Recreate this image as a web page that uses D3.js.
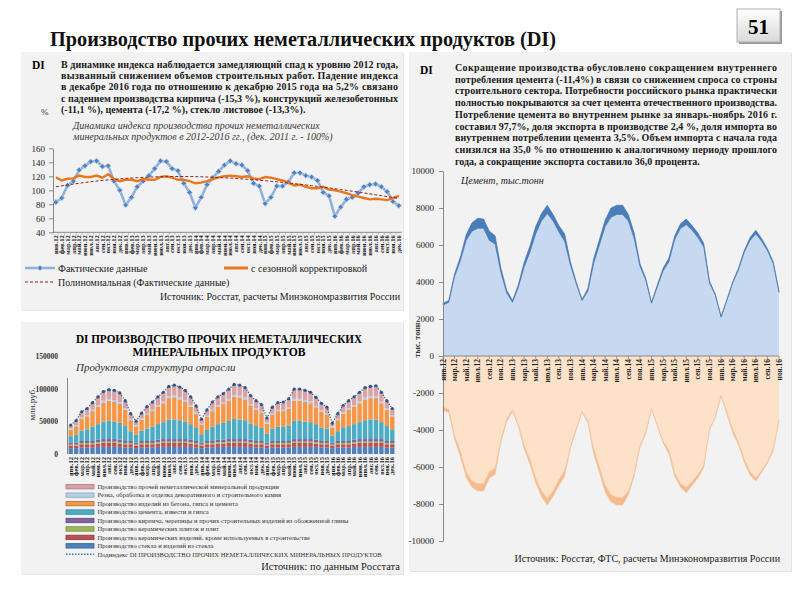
<!DOCTYPE html>
<html><head><meta charset="utf-8">
<script src="https://cdn.jsdelivr.net/npm/d3@7"></script>
<style>
body{margin:0;background:#fff}
svg{display:block}
</style>
</head><body>
<svg id="c" width="800" height="597"></svg>
<script>
// ---------- DATA ----------
const monthNames = ["янв","фев","мар","апр","май","июн","июл","авг","сен","окт","ноя","дек"];
const yearNames = ["12","13","14","15","16"];
const months = yearNames.flatMap(y => monthNames.map(m => m + "." + y));

// Index of production, Dec 2011 = 100
const actualIndex = [83,89,107,113,129,135,141,142,134,135,113,100, 79,90,105,113,121,131,142,141,131,128,110,97, 75,90,108,118,127,136,142,138,136,128,110,106, 81,90,106,106,112,125,125,121,119,114,97,92, 63,76,87,90,96,105,108,109,105,98,84,78];
const seasonalIndex = [118.5,114,116.5,117,121,119,119,121,118,123,116,113, 115,115,113,116,115,115,119,120,118,115,115,113, 110,111,113,116,118.5,120,121,120,119,120,117,116, 119,118,116,114,111,107,108,105,103,103,105,101, 100,98,96,93,91,89,87,88,87,86,89,92];
const trendIndex = [105,106.4,107.7,108.9,110.1,111.2,112.2,113.2,114.1,114.9,115.7,116.4, 117.0,117.6,118.1,118.5,118.9,119.2,119.4,119.6,119.7,119.7,119.7,119.6, 119.5,119.3,119.0,118.7,118.3,117.9,117.4,116.9,116.3,115.7,115.1,114.4, 113.7,112.9,112.1,111.3,110.4,109.5,108.6,107.6,106.6,105.6,104.5,103.4, 102.3,101.1,99.9,98.7,97.5,96.2,94.9,93.6,92.3,91.0,89.7,88.4];
const indexTicks = [40,60,80,100,120,140,160];

// Product structure, thousand mln rub
const glass    = [9,9,10,10,10,11,11,11,11,11,10,10, 9,10,10,10,11,11,11,11,11,11,11,10, 9,10,10,11,11,11,11,11,11,11,10,10, 9,10,10,10,10,11,11,11,11,11,10,10, 9,10,10,10,11,11,11,11,11,11,10,10];
const ceramics = [4,4,5,5,5,5,6,6,6,5,5,5, 4,5,5,5,5,6,6,6,6,6,5,5, 4,5,5,5,5,6,6,6,6,5,5,5, 4,5,5,5,5,6,6,6,6,5,5,5, 4,5,5,5,5,6,6,6,6,6,5,5];
const tiles    = [1.5,1.5,2,2,2,2,2,2,2,2,2,2, 1.5,2,2,2,2,2,2,2,2,2,2,2, 1.5,2,2,2,2,2,2,2,2,2,2,2, 1.5,2,2,2,2,2,2,2,2,2,2,2, 1.5,2,2,2,2,2,2,2,2,2,2,2];
const brick    = [3,3,3,3,3,4,4,4,4,4,3,3, 3,3,3,3,4,4,4,4,4,4,4,3, 3,3,3,4,4,4,4,4,4,4,3,3, 3,3,3,3,3,4,4,4,4,4,3,3, 3,3,3,3,4,4,4,4,4,4,3,3];
const cement   = [10,12,16,18,22,24,27,28,27,26,23,15, 12,16,19,22,24,26,30,30,29,27,24,20, 13,17,22,24,26,28,31,30,29,25,23,20, 14,19,22,22,24,28,28,27,26,24,21,19, 11,15,20,23,24,26,29,30,30,26,23,18];
const concrete = [10,13,18,20,24,27,29,31,30,29,25,17, 13,17,21,24,27,29,33,34,32,30,27,22, 14,20,24,27,29,31,34,34,32,28,25,23, 15,21,24,24,26,31,31,30,29,26,24,21, 12,17,22,25,27,29,32,33,33,29,25,20];
const stone    = [2,2,2,2,2,2,3,3,3,3,2,2, 2,2,2,2,2,3,3,3,3,3,2,2, 2,2,2,2,2,3,3,3,3,2,2,2, 2,2,2,2,2,3,3,3,3,2,2,2, 2,2,2,2,2,3,3,3,3,3,2,2];
const otherMin = [5,7,9,10,11,13,14,14,15,14,12,8, 6,8,11,12,13,14,15,16,16,15,13,10, 7,9,12,13,14,15,16,16,15,13,12,11, 7,10,11,12,13,15,15,15,14,13,11,10, 5,8,11,12,13,14,15,15,16,14,12,10];
const structTicks = [0,50,100,150];
const structNames = [
  "Производство прочей неметаллической минеральной продукции",
  "Резка, обработка и отделка декоративного и строительного камня",
  "Производство изделий из бетона, гипса и цемента",
  "Производство цемента, извести и гипса",
  "Производство кирпича, черепицы и прочих строительных изделий из  обожженной глины",
  "Производство керамических плиток и плит",
  "Производство керамических изделий, кроме используемых в строительстве",
  "Производство стекла и изделий из стекла"
];
const totalName = "Подиндекс DI ПРОИЗВОДСТВО ПРОЧИХ НЕМЕТАЛЛИЧЕСКИХ  МИНЕРАЛЬНЫХ ПРОДУКТОВ";

// Cement, thousand tonnes (Jan 2012 – Nov 2016)
const cementDomestic = [2750,2900,4300,5150,6250,6750,6900,6900,6250,6050,4500,3400, 2900,3700,4800,5600,6600,7300,7700,7300,6700,6200,4900,3900, 3000,3500,5000,6000,7000,7500,7650,7650,7300,6350,4850,4100, 2850,3750,4600,5100,6300,6900,7100,6800,6400,5900,3950,3300, 2100,3000,3950,4650,5600,6250,6600,6200,5700,5000,3450];
const cementExport   = [100,100,150,200,300,450,550,500,500,450,250,150, 100,150,250,350,400,400,450,350,350,400,200,100, 50,150,250,300,350,500,500,500,350,300,150,100, 50,100,150,200,200,250,300,250,250,200,100,50, 50,50,50,100,100,150,200,150,100,100,50];
const cementImport   = [200,150,200,300,300,350,400,400,350,350,150,150, 100,100,200,250,250,300,350,300,300,300,100,100, 50,100,300,300,350,400,400,400,200,150,100,100, 50,50,100,200,200,200,300,200,200,150,50,50, 100,150,200,150,150,200,150,100,100,150,50];
const cementTicks = [-10000,-8000,-6000,-4000,-2000,0,2000,4000,6000,8000,10000];

// ---------- DRAWING ----------
const FONT = '"Liberation Serif", "Times New Roman", Times, "DejaVu Serif", serif';
const svg = d3.select("#c").style("font-family", FONT);
svg.append("rect").attr("width",800).attr("height",597).attr("fill","#fff");

// panels
[[21,52,382,258],[21,322,382,252],[409,52,382,519]].forEach(([x,y,w,h]) => {
  svg.append("rect").attr("x",x+1).attr("y",y+1).attr("width",w).attr("height",h).attr("fill","#e4e4e4");
  svg.append("rect").attr("x",x).attr("y",y).attr("width",w).attr("height",h).attr("fill","#f2f2f2");
});

// title
svg.append("text").attr("x",50).attr("y",46).attr("font-size",21).attr("font-weight","bold")
  .attr("textLength",506).attr("lengthAdjust","spacingAndGlyphs").attr("fill","#111")
  .text("Производство прочих неметаллических продуктов (DI)");

// page number box
const defs = svg.append("defs");
const lg = defs.append("linearGradient").attr("id","pg").attr("x1",0).attr("y1",0).attr("x2",0).attr("y2",1);
lg.append("stop").attr("offset","0").attr("stop-color","#ffffff");
lg.append("stop").attr("offset","1").attr("stop-color","#d9d9d9");
svg.append("rect").attr("x",739).attr("y",11).attr("width",43).attr("height",33).attr("fill","#9a9a9a");
svg.append("rect").attr("x",737).attr("y",9).attr("width",43).attr("height",33).attr("fill","url(#pg)").attr("stroke","#b0b0b0");
svg.append("text").attr("x",758.5).attr("y",34).attr("text-anchor","middle").attr("font-size",21).attr("font-weight","bold").text("51");

function para(lines, x, y0, dy, width, size) {
  lines.forEach((l,i) => {
    const t = svg.append("text").attr("x",x).attr("y",y0+i*dy).attr("font-size",size)
      .attr("font-weight","bold").attr("fill","#1a1a1a").text(l);
    if (i < lines.length-1) t.attr("textLength",width).attr("lengthAdjust","spacing");
  });
}

// ===== Top-left panel =====
svg.append("text").attr("x",32).attr("y",69).attr("font-size",11.5).attr("font-weight","bold").text("DI");
para([
  "В динамике индекса наблюдается замедляющий спад к уровню 2012 года,",
  "вызванный снижением объемов строительных работ.  Падение индекса",
  "в декабре 2016 года по отношению к декабрю 2015 года на 5,2% связано",
  "с падением производства кирпича (-15,3 %), конструкций железобетонных",
  "(-11,1 %), цемента (-17,2 %), стекло листовое (-13,3%)."
], 61, 68, 11.2, 337, 10);
svg.append("text").attr("x",41).attr("y",115).attr("font-size",9).attr("fill","#333").text("%");
svg.append("text").attr("x",73).attr("y",129).attr("font-size",10).attr("font-style","italic").attr("fill","#3a3a3a")
  .text("Динамика индекса производства прочих неметаллических");
svg.append("text").attr("x",73).attr("y",140).attr("font-size",10).attr("font-style","italic").attr("fill","#3a3a3a")
  .text("минеральных продуктов в 2012-2016 гг., (дек. 2011 г. - 100%)");

const x1 = d3.scaleBand().domain(months).range([53,401.7]);
const y1 = d3.scaleLinear().domain([40,160]).range([232.3,148.3]);
const bw1 = x1.bandwidth();
const cx1 = (i) => x1(months[i]) + bw1/2;

const ay1 = svg.append("g").attr("transform","translate(53,0)")
  .call(d3.axisLeft(y1).tickValues(indexTicks).tickSize(4).tickSizeOuter(0));
ay1.select(".domain").attr("stroke","#888");
ay1.selectAll(".tick line").attr("stroke","#888");
ay1.selectAll("text").attr("font-size",9).attr("fill","#222").attr("dx",-1);

svg.append("line").attr("x1",53).attr("x2",401.7).attr("y1",y1(40)).attr("y2",y1(40)).attr("stroke","#888");
months.forEach((m,i) => {
  svg.append("line").attr("x1",x1(m)).attr("x2",x1(m)).attr("y1",y1(40)).attr("y2",y1(40)+2.5).attr("stroke","#999").attr("stroke-width",0.6);
  svg.append("text").attr("transform",`translate(${cx1(i)+2.2},${y1(40)+3}) rotate(-90)`)
    .attr("text-anchor","end").attr("font-size",6.5).attr("font-weight","bold").attr("fill","#222").text(m);
});

const line1 = (arr) => d3.line().x((d,i)=>cx1(i)).y(d=>y1(d))(arr);
svg.append("path").attr("d",line1(actualIndex)).attr("fill","none").attr("stroke","#8fb1dc").attr("stroke-width",2.6);
const diamond = d3.symbol().type(d3.symbolSquare).size(16);
actualIndex.forEach((v,i) => {
  svg.append("path").attr("d",diamond()).attr("transform",`translate(${cx1(i)},${y1(v)}) rotate(45)`)
    .attr("fill","#4f81bd").attr("stroke","#c6d6ec").attr("stroke-width",0.8);
});
svg.append("path").attr("d",line1(seasonalIndex)).attr("fill","none").attr("stroke","#e8771e").attr("stroke-width",2.4);
svg.append("path").attr("d",line1(trendIndex)).attr("fill","none").attr("stroke","#8b2323").attr("stroke-width",1).attr("stroke-dasharray","3,2");

// legend
svg.append("line").attr("x1",25).attr("x2",55).attr("y1",268).attr("y2",268).attr("stroke","#8fb1dc").attr("stroke-width",2.6);
svg.append("path").attr("d",diamond()).attr("transform","translate(40,268) rotate(45)").attr("fill","#4f81bd").attr("stroke","#c6d6ec").attr("stroke-width",0.8);
svg.append("text").attr("x",58).attr("y",271.5).attr("font-size",10).attr("fill","#222").text("Фактические данные");
svg.append("line").attr("x1",224).attr("x2",248).attr("y1",268).attr("y2",268).attr("stroke","#e8771e").attr("stroke-width",3);
svg.append("text").attr("x",251).attr("y",271.5).attr("font-size",10).attr("fill","#222").text("с сезонной корректировкой");
svg.append("line").attr("x1",25).attr("x2",55).attr("y1",282).attr("y2",282).attr("stroke","#8b2323").attr("stroke-width",1).attr("stroke-dasharray","3,2");
svg.append("text").attr("x",58).attr("y",285.5).attr("font-size",10).attr("fill","#222").text("Полиномиальная (Фактические данные)");
svg.append("text").attr("x",400).attr("y",300).attr("text-anchor","end").attr("font-size",10).attr("fill","#222")
  .text("Источник: Росстат, расчеты Минэкономразвития России");

// ===== Bottom-left panel =====
svg.append("text").attr("x",219).attr("y",343).attr("text-anchor","middle").attr("font-size",12.5).attr("font-weight","bold")
  .attr("textLength",286).attr("lengthAdjust","spacingAndGlyphs").text("DI ПРОИЗВОДСТВО ПРОЧИХ НЕМЕТАЛЛИЧЕСКИХ");
svg.append("text").attr("x",219).attr("y",356).attr("text-anchor","middle").attr("font-size",12.5).attr("font-weight","bold")
  .attr("textLength",173).attr("lengthAdjust","spacingAndGlyphs").text("МИНЕРАЛЬНЫХ ПРОДУКТОВ");
svg.append("text").attr("x",76).attr("y",371).attr("font-size",11).attr("font-style","italic").attr("fill","#333")
  .text("Продуктовая структура отрасли");

const x2 = d3.scaleBand().domain(months).range([68,395]).paddingInner(0.2).paddingOuter(0.1);
const y2 = d3.scaleLinear().domain([0,150]).range([454,356.5]);
const layers = [glass, ceramics, tiles, brick, cement, concrete, stone, otherMin];
const fills   = ["#4f81bd","#c0504d","#9bbb59","#8064a2","#4bacc6","#f79646","#b9cde5","#d9a3a5"];
const strokes = ["#385d8a","#8c3836","#71893f","#5c4776","#357d91","#b66d31","#8ea7c4","#a87b7d"];
const tableRows = months.map((m,i) => ({m, v: layers.map(a => a[i])}));
const stacked = d3.stack().keys(d3.range(layers.length)).value((d,k) => d.v[k])(tableRows);
stacked.forEach((s,k) => {
  svg.append("g").selectAll("rect").data(s).join("rect")
    .attr("x", d => x2(d.data.m)).attr("width", x2.bandwidth())
    .attr("y", d => y2(d[1])).attr("height", d => y2(d[0]) - y2(d[1]))
    .attr("fill", fills[k]);
});
const totals = tableRows.map(r => d3.sum(r.v));
const cx2 = (i) => x2(months[i]) + x2.bandwidth()/2;
svg.append("path").attr("d", d3.line().x((d,i)=>cx2(i)).y(d=>y2(d))(totals))
  .attr("fill","none").attr("stroke","#2b5a8c").attr("stroke-width",1.2).attr("stroke-dasharray","1.2,1.5");
totals.forEach((t,i) => svg.append("circle").attr("cx",cx2(i)).attr("cy",y2(t)).attr("r",1.6).attr("fill","#2a5788"));

svg.append("line").attr("x1",67.5).attr("x2",67.5).attr("y1",y2(117)).attr("y2",454).attr("stroke","#888");
const ay2 = svg.append("g").attr("transform","translate(61,0)")
  .call(d3.axisLeft(y2).tickValues(structTicks).tickSize(0).tickFormat(d => String(d*1000)));
ay2.select(".domain").remove();
ay2.selectAll("text").attr("font-size",7.5).attr("font-weight","bold").attr("fill","#333");
svg.append("text").attr("transform","translate(35,404) rotate(-90)").attr("text-anchor","middle").attr("font-size",9).attr("fill","#333").text("млн.руб.");
months.forEach((m,i) => {
  svg.append("text").attr("transform",`translate(${cx2(i)+2.2},${457}) rotate(-90)`)
    .attr("text-anchor","end").attr("font-size",6.5).attr("font-weight","bold").attr("fill","#222").text(m);
});
// legend
const legendOrder = [7,6,5,4,3,2,1,0];
legendOrder.forEach((k,j) => {
  const yy = 486.7 + j*8.45;
  svg.append("rect").attr("x",66).attr("y",yy-2.2).attr("width",28).attr("height",4.4).attr("fill",fills[k]).attr("stroke",strokes[k]).attr("stroke-width",0.8);
  svg.append("text").attr("x",97.5).attr("y",yy+2.2).attr("font-size",6.6).attr("fill","#333").text(structNames[j]);
});
svg.append("line").attr("x1",66).attr("x2",94).attr("y1",554.3).attr("y2",554.3).attr("stroke","#2b7fb0").attr("stroke-width",1.6).attr("stroke-dasharray","1.5,1.5");
svg.append("text").attr("x",97.5).attr("y",556.5).attr("font-size",6.6).attr("fill","#333").text(totalName);
svg.append("text").attr("x",400).attr("y",570).attr("text-anchor","end").attr("font-size",10.5).attr("fill","#222").text("Источник: по данным Росстата");

// ===== Right panel =====
svg.append("text").attr("x",420).attr("y",74).attr("font-size",11.5).attr("font-weight","bold").text("DI");
para([
  "Сокращение производства обусловлено сокращением внутреннего",
  "потребления цемента (-11,4%) в связи со снижением спроса со строны",
  "строительного сектора. Потребности российского рынка практически",
  "полностью  покрываются за счет цемента отечественного производства.",
  "Потребление цемента во внутреннем рынке за январь-ноябрь 2016 г.",
  "составил 97,7%, доля экспорта в производстве  2,4 %, доля импорта во",
  "внутреннем потреблении цемента 3,5%. Объем импорта с начала года",
  "снизился на 35,0 % по отношению к аналогичному периоду прошлого",
  "года, а сокращение экспорта составило 36,0  процента."
], 455, 71, 11.7, 322, 10);

const m3 = months.slice(0, cementDomestic.length);
const x3 = d3.scalePoint().domain(m3).range([443,779]);
const y3 = d3.scaleLinear().domain([-10000,10000]).range([541,171]);
const idx = d3.range(m3.length);
const area = (lo, hi) => d3.area().x(i => x3(m3[i])).y0(i => y3(lo(i))).y1(i => y3(hi(i)))(idx);
svg.append("path").attr("d", area(()=>0, i=>cementDomestic[i])).attr("fill","#c6d9f0");
svg.append("path").attr("d", area(i=>cementDomestic[i], i=>cementDomestic[i]+cementExport[i])).attr("fill","#4a7ebb").attr("stroke","#3f70aa").attr("stroke-width",0.6);
svg.append("path").attr("d", area(()=>0, i=>-cementDomestic[i])).attr("fill","#fde1c8");
svg.append("path").attr("d", area(i=>-cementDomestic[i], i=>-(cementDomestic[i]+cementImport[i]))).attr("fill","#f6bb8d").attr("stroke","#f2c39c").attr("stroke-width",0.5);

const ay3 = svg.append("g").attr("transform","translate(443,0)")
  .call(d3.axisLeft(y3).tickValues(cementTicks).tickSize(4).tickSizeOuter(0).tickFormat(d => String(d)));
ay3.select(".domain").attr("stroke","#888");
ay3.selectAll(".tick line").attr("stroke","#888");
ay3.selectAll("text").attr("font-size",9).attr("fill","#222").attr("dx",-2);
svg.append("line").attr("x1",443).attr("x2",779).attr("y1",y3(0)).attr("y2",y3(0)).attr("stroke","#888");
m3.forEach((m,i) => {
  if (i % 2 === 0) {
    svg.append("line").attr("x1",x3(m)).attr("x2",x3(m)).attr("y1",y3(0)).attr("y2",y3(0)+3).attr("stroke","#888").attr("stroke-width",0.8);
    svg.append("text").attr("transform",`translate(${x3(m)+2.5},${y3(0)+3}) rotate(-90)`)
      .attr("text-anchor","end").attr("font-size",7.5).attr("font-weight","bold").attr("fill","#222").text(m);
  }
});
svg.append("text").attr("x",461).attr("y",184).attr("font-size",10).attr("font-style","italic").attr("fill","#222").text("Цемент, тыс.тонн");
svg.append("text").attr("transform","translate(420,340) rotate(-90)").attr("text-anchor","middle").attr("font-size",8).attr("font-weight","bold").attr("fill","#333").text("тыс. тонн");
svg.append("text").attr("x",780).attr("y",562).attr("text-anchor","end").attr("font-size",10).attr("fill","#222")
  .text("Источник: Росстат, ФТС, расчеты Минэкономразвития России");

// apply serif font to every text (axes included)
svg.selectAll("text").style("font-family", FONT);
svg.selectAll("g").attr("font-family", null);
</script>
</body></html>
